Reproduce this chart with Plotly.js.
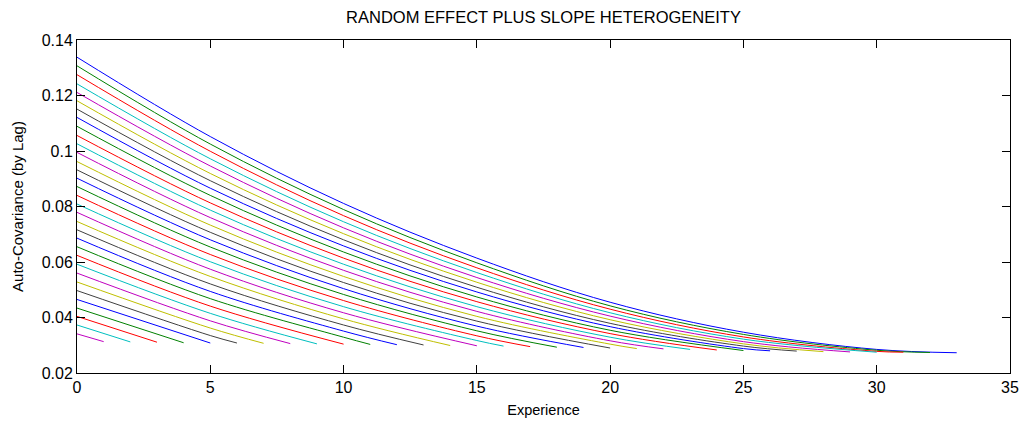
<!DOCTYPE html>
<html>
<head>
<meta charset="utf-8">
<script src="https://cdn.plot.ly/plotly-3.0.1.min.js"></script>
<style>
  html, body { margin: 0; padding: 0; background: #ffffff; }
  #chart { width: 1029px; height: 424px; }
</style>
</head>
<body>
<div id="chart"></div>
<script>
// Each line is one lag (lag 0 on top).
// at experience 0, 5, 10, ... and at the end of each line.
const lineEnd = [33,32,31,30,29,28,27,26,25,24,23,22,21,20,19,18,17,16,15,14,13,12,11,10,9,8,7,6,5,4,3,2,1];
const colX = [5, 10, 15, 20, 25, 30];
const atX0 = [0.1338,0.1307,0.1275,0.1242,0.1211,0.1181,0.1151,0.1121,0.1089,0.1056,0.1026,0.0995,0.0962,0.0932,0.0902,0.0872,0.0840,0.0809,0.0779,0.0746,0.0716,0.0686,0.0655,0.0624,0.0592,0.0560,0.0528,0.0497,0.0465,0.0434,0.0404,0.0373,0.0341];
const atX5 = [0.1052,0.1025,0.0999,0.0972,0.0946,0.0919,0.0893,0.0866,0.0840,0.0813,0.0787,0.0760,0.0733,0.0707,0.0680,0.0654,0.0627,0.0601,0.0574,0.0548,0.0521,0.0494,0.0468,0.0441,0.0415,0.0388,0.0362,0.0335];
const atX10 = [0.0811,0.0789,0.0767,0.0745,0.0723,0.0702,0.0680,0.0658,0.0636,0.0614,0.0592,0.0570,0.0548,0.0526,0.0504,0.0483,0.0461,0.0439,0.0417,0.0395,0.0373,0.0351,0.0329];
const atX15 = [0.0614,0.0597,0.0579,0.0562,0.0544,0.0527,0.0509,0.0492,0.0474,0.0457,0.0439,0.0422,0.0404,0.0387,0.0369,0.0352,0.0334,0.0317];
const atX20 = [0.0455,0.0442,0.0430,0.0417,0.0405,0.0392,0.0379,0.0367,0.0354,0.0342,0.0329,0.0316,0.0304];
const atX25 = [0.0347,0.0339,0.0330,0.0322,0.0313,0.0305,0.0297,0.0288];
const atX30 = [0.0285,0.0282,0.0278];
const endVal = [0.0273,0.0274,0.0275,0.0275,0.0276,0.0277,0.0279,0.0280,0.0281,0.0283,0.0285,0.0287,0.0288,0.0290,0.0292,0.0293,0.0295,0.0297,0.0298,0.0299,0.0301,0.0302,0.0303,0.0304,0.0305,0.0306,0.0307,0.0308,0.0308,0.0309,0.0311,0.0312,0.0313];
const xTicks = [0, 5, 10, 15, 20, 25, 30, 35];
const yTicks = [0.02, 0.04, 0.06, 0.08, 0.1, 0.12, 0.14];

const colorOrder = ['#0000FF', '#008000', '#FF0000', '#00BFBF', '#BF00BF', '#BFBF00', '#404040'];
const colVals = [atX5, atX10, atX15, atX20, atX25, atX30];

const traces = lineEnd.map(function (end, i) {
  const xs = [0], ys = [atX0[i]];
  colX.forEach(function (cx, k) {
    if (cx < end && i < colVals[k].length) { xs.push(cx); ys.push(colVals[k][i]); }
  });
  xs.push(end); ys.push(endVal[i]);
  return {
    type: 'scatter', mode: 'lines', x: xs, y: ys,
    line: { color: colorOrder[i % 7], width: 1, shape: 'spline', smoothing: 1 },
    showlegend: false, hoverinfo: 'x+y'
  };
});

const fontFam = '"Liberation Sans", Arial, sans-serif';
const layout = {
  width: 1029, height: 424,
  margin: { l: 77, r: 19, t: 40, b: 51 },
  paper_bgcolor: '#ffffff', plot_bgcolor: '#ffffff',
  font: { family: fontFam, size: 15, color: '#000000' },
  title: { text: 'RANDOM EFFECT PLUS SLOPE HETEROGENEITY', x: 0.5, xref: 'paper', y: 0.96, yref: 'container', yanchor: 'middle', font: { family: fontFam, size: 16.5, color: '#000000' } },
  xaxis: {
    range: [0, 35], tickvals: xTicks, ticktext: xTicks.map(String),
    ticks: 'inside', ticklen: 8, tickcolor: '#000000', tickwidth: 1,
    showline: true, linecolor: '#000000', linewidth: 1, mirror: 'ticks',
    showgrid: false, zeroline: false,
    tickfont: { family: fontFam, size: 16, color: '#000000' },
    title: { text: 'Experience', font: { family: fontFam, size: 14.5, color: '#000000' }, standoff: 9 },
    automargin: false
  },
  yaxis: {
    range: [0.02, 0.14], tickvals: yTicks, ticktext: yTicks.map(String),
    ticks: 'inside', ticklen: 8, tickcolor: '#000000', tickwidth: 1,
    showline: true, linecolor: '#000000', linewidth: 1, mirror: 'ticks',
    showgrid: false, zeroline: false,
    tickfont: { family: fontFam, size: 16, color: '#000000' },
    title: { text: 'Auto-Covariance (by Lag)', font: { family: fontFam, size: 15, color: '#000000' }, standoff: 14 },
    automargin: false
  }
};

Plotly.newPlot('chart', traces, layout, { staticPlot: true, displayModeBar: false });
</script>
</body>
</html>
